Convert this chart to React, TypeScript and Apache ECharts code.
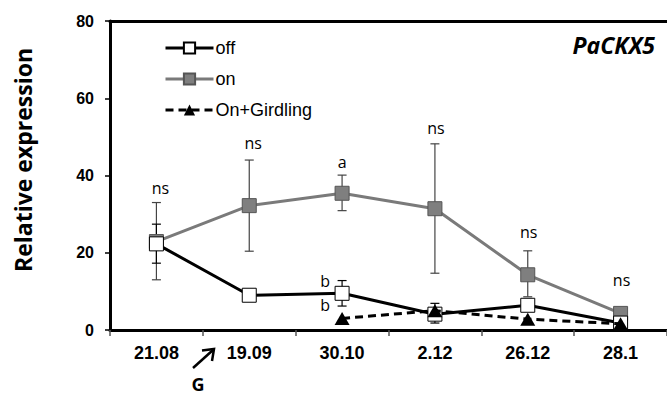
import React, { useEffect, useRef } from "react";
import * as echarts from "echarts";

const categories = ["21.08", "19.09", "30.10", "2.12", "26.12", "28.1"];
const offValues = [22.3, 9, 9.5, 4.1, 6.4, 1.8];
const onValues = [22.9, 32.2, 35.4, 31.4, 14.3, 4.3];
const girdlingValues: (number | null)[] = [null, null, 3.0, 5.0, 2.8, 1.6];

const onErrLow: (number | null)[] = [13, 20.4, 30.9, 14.7, 8.6, null];
const onErrHigh: (number | null)[] = [33, 44, 40.1, 48.2, 20.5, null];
const offErrLow: (number | null)[] = [17.3, null, 6.2, 1.8, 5.6, null];
const offErrHigh: (number | null)[] = [27.4, null, 12.8, 6.9, 7.4, null];

const annotTexts = ["ns", "ns", "a", "ns", "ns", "ns", "b", "b"];
const annotCats = [0, 1, 2, 3, 4, 5, 2, 2];
const annotValues = [36.8, 48.4, 43.5, 52.3, 25.4, 12.9, 12.8, 6.5];
const annotOffsets = [4, 4, 0, 1, 1, 1, -17, -17];

const yTicks = { min: 0, max: 80, interval: 20 };

function errData(lo: (number | null)[], hi: (number | null)[]) {
  const out: number[][] = [];
  lo.forEach((l, i) => {
    const h = hi[i];
    if (l != null && h != null) out.push([i, l, h]);
  });
  return out;
}

function errRender(color: string) {
  return (params: any, api: any) => {
    const x = api.value(0);
    const p1 = api.coord([x, api.value(2)]);
    const p2 = api.coord([x, api.value(1)]);
    const w = 4.5;
    const style = { stroke: color, lineWidth: 1.2 };
    return {
      type: "group",
      children: [
        { type: "line", shape: { x1: p1[0], y1: p1[1], x2: p2[0], y2: p2[1] }, style },
        { type: "line", shape: { x1: p1[0] - w, y1: p1[1], x2: p1[0] + w, y2: p1[1] }, style },
        { type: "line", shape: { x1: p2[0] - w, y1: p2[1], x2: p2[0] + w, y2: p2[1] }, style },
      ],
    };
  };
}

export default function App() {
  const ref = useRef<HTMLDivElement>(null);
  useEffect(() => {
    document.body.style.margin = "0";
    const chart = echarts.init(ref.current!, null, { renderer: "svg" });
    const annotData = annotTexts.map((t, i) => [annotCats[i], annotValues[i], annotOffsets[i], i]);
    chart.setOption({
      animation: false,
      backgroundColor: "#fff",
      grid: { left: 110, top: 21, bottom: 67, width: 563 },
      legend: {
        orient: "vertical",
        left: 159,
        top: 34,
        itemWidth: 48,
        itemHeight: 14,
        itemGap: 13,
        lineStyle: { width: 3 },
        textStyle: { fontFamily: "Liberation Sans", fontSize: 18, color: "#000", padding: [0, 0, 0, -3] },
        data: ["off", "on", "On+Girdling"],
      },
      xAxis: [
        {
          type: "category",
          data: categories,
          boundaryGap: true,
          axisLine: { lineStyle: { color: "#000", width: 3 } },
          axisTick: { show: true, length: 6, lineStyle: { color: "#555", width: 1.5 } },
          axisLabel: {
            margin: 14,
            color: "#000",
            fontFamily: "Liberation Sans",
            fontWeight: "bold",
            fontSize: 18,
          },
        },
        {
          type: "category",
          data: categories,
          position: "top",
          axisLine: { lineStyle: { color: "#000", width: 3 } },
          axisTick: { show: false },
          axisLabel: { show: false },
        },
      ],
      yAxis: {
        type: "value",
        min: yTicks.min,
        max: yTicks.max,
        interval: yTicks.interval,
        splitLine: { show: false },
        axisLine: { show: true, lineStyle: { color: "#000", width: 3 } },
        axisTick: { show: true, length: 5, lineStyle: { color: "#000", width: 1.5 } },
        axisLabel: {
          margin: 16,
          color: "#000",
          fontFamily: "Liberation Sans",
          fontWeight: "bold",
          fontSize: 16,
        },
      },
      graphic: [
        {
          type: "text",
          x: 23,
          y: 160,
          rotation: Math.PI / 2,
          style: {
            text: "Relative expression",
            font: 'bold 23px "Open Sans"',
            fill: "#000",
            align: "center",
            verticalAlign: "middle",
          },
        },
        {
          type: "text",
          x: 655,
          y: 45,
          style: {
            text: "PaCKX5",
            font: 'italic bold 23px "Open Sans"',
            fill: "#000",
            align: "right",
            verticalAlign: "middle",
          },
        },
        {
          type: "line",
          shape: { x1: 193, y1: 368, x2: 213, y2: 350 },
          style: { stroke: "#000", lineWidth: 2.5 },
        },
        {
          type: "polyline",
          shape: { points: [[202, 350.5], [214, 349], [212, 361]] },
          style: { stroke: "#000", lineWidth: 2.5, fill: null },
        },
        {
          type: "text",
          x: 198,
          y: 384,
          style: {
            text: "G",
            font: 'bold 18px "Open Sans"',
            fill: "#000",
            align: "center",
            verticalAlign: "middle",
          },
        },
      ],
      series: [
        {
          type: "custom",
          name: "onErr",
          z: 1,
          renderItem: errRender("#444"),
          data: errData(onErrLow, onErrHigh),
          silent: true,
        },
        {
          type: "custom",
          name: "offErr",
          z: 1,
          renderItem: errRender("#000"),
          data: errData(offErrLow, offErrHigh),
          silent: true,
        },
        {
          type: "line",
          name: "off",
          z: 3,
          data: offValues,
          symbol: "rect",
          symbolSize: 14,
          lineStyle: { color: "#000", width: 3 },
          itemStyle: { color: "#fff", borderColor: "#000", borderWidth: 1 },
        },
        {
          type: "line",
          name: "on",
          z: 2,
          data: onValues,
          symbol: "rect",
          symbolSize: 14,
          lineStyle: { color: "#7a7a7a", width: 3 },
          itemStyle: { color: "#7f7f7f", borderColor: "#555", borderWidth: 1 },
        },
        {
          type: "line",
          name: "On+Girdling",
          z: 4,
          data: girdlingValues,
          symbol: "triangle",
          symbolSize: [15, 13],
          lineStyle: { color: "#000", width: 3, type: [8, 5] },
          itemStyle: { color: "#000" },
        },
        {
          type: "custom",
          name: "annot",
          z: 5,
          silent: true,
          data: annotData,
          renderItem: (params: any, api: any) => {
            const p = api.coord([api.value(0), api.value(1)]);
            const idx = api.value(3);
            return {
              type: "text",
              x: p[0] + api.value(2),
              y: p[1],
              style: {
                text: annotTexts[idx],
                font: '16px "Open Sans"',
                fill: "#000",
                align: "center",
                verticalAlign: "middle",
              },
            };
          },
        },
      ],
    });
    return () => chart.dispose();
  }, []);
  return <div ref={ref} style={{ width: 667, height: 397 }} />;
}
